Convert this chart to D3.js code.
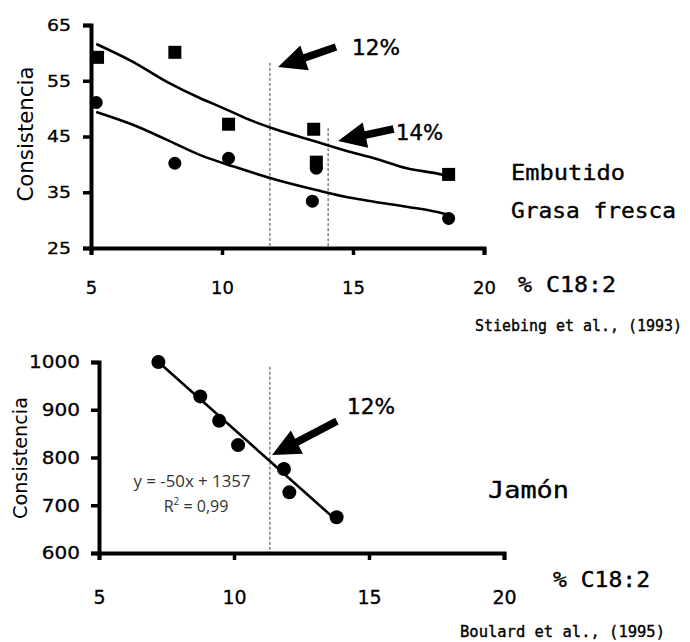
<!DOCTYPE html>
<html>
<head>
<meta charset="utf-8">
<script src="https://cdn.jsdelivr.net/npm/d3@7"></script>
<style>
  body { margin: 0; background: #fff; }
  svg { display: block; }
</style>
</head>
<body>
<div id="chart"></div>
<script>
// --- data ---
// Stiebing et al. (1993): consistency vs % C18:2
const embX = [5.25, 8.2, 10.25, 13.5, 13.6, 18.65];
const embY = [59.2, 60.1, 47.2, 46.3, 40.4, 38.2];
const grasaX = [5.2, 8.2, 10.25, 13.45, 13.6, 18.65];
const grasaY = [51.1, 40.2, 41.1, 33.4, 39.3, 30.3];
// fitted curves as drawn in the figure
const embTrendX = [5.2, 6.6, 7.9, 9.15, 10.05, 11.05, 12.1, 13.35, 14.9, 15.8, 17.05, 18.45, 18.6];
const embTrendY = [61.6, 58.4, 54.8, 51.9, 50.1, 48.0, 46.2, 44.4, 42.2, 41.1, 39.3, 38.1, 37.9];
const grasaTrendX = [5.2, 6.6, 7.9, 9.15, 10.45, 12.1, 13.6, 14.9, 15.8, 17.05, 18.45, 18.6];
const grasaTrendY = [49.4, 47.1, 44.4, 41.7, 39.6, 37.2, 35.4, 34.0, 33.3, 32.4, 31.2, 31.0];

// Boulard et al. (1995): ham
const jamonX = [7.2, 8.75, 9.45, 10.15, 11.85, 12.05, 13.8];
const jamonY = [1000, 928, 877, 826, 776, 727, 675];
const jamonTrendX = [7.2, 13.7];
const jamonTrendY = [1000, 673];

const topXTicks = [5, 10, 15, 20];
const topYTicks = [25, 35, 45, 55, 65];
const botXTicks = [5, 10, 15, 20];
const botYTicks = [600, 700, 800, 900, 1000];

// reference lines and arrows (data units)
const topRefX = [11.83, 14.05];
const topRefTop = [58.2, 46.5];
const botRefX = [11.33];
const botRefTop = [990];
const topArrows = [
  { tail: [14.35, 61.05], tip: [12.14, 57.47] },
  { tail: [16.55, 46.35], tip: [14.43, 44.19] }
];
const botArrows = [
  { tail: [13.81, 876], tip: [11.41, 805] }
];

const width = 690, height = 642;

const svg = d3.select("#chart").append("svg")
  .attr("width", width)
  .attr("height", height)
  .style("background", "#fff");

const sans = "DejaVu Sans, Verdana, sans-serif";
const mono = "DejaVu Sans Mono, Monaco, monospace";

function label(x, y, txt, o) {
  const t = svg.append("text")
    .attr("x", x).attr("y", y)
    .attr("font-family", o.family || sans)
    .attr("font-size", o.size)
    .attr("fill", o.fill || "#000")
    .attr("text-anchor", o.anchor || "start")
    .text(txt);
  if (o.heavy) t.attr("stroke", o.fill || "#000").attr("stroke-width", o.heavy);
  if (o.len) t.attr("textLength", o.len).attr("lengthAdjust", "spacingAndGlyphs");
  if (o.rotate) t.attr("transform", `rotate(${o.rotate},${x},${y})`);
  return t;
}

function arrow(g, x, y, a) {
  const x1 = x(a.tail[0]), y1 = y(a.tail[1]);
  const x2 = x(a.tip[0]), y2 = y(a.tip[1]);
  const ang = Math.atan2(y2 - y1, x2 - x1);
  const len = Math.hypot(x2 - x1, y2 - y1);
  const headL = 28, headW = 13, shaft = 3.8;
  const pts = [
    [0, -shaft], [len - headL, -shaft], [len - headL, -headW],
    [len, 0],
    [len - headL, headW], [len - headL, shaft], [0, shaft]
  ];
  g.append("polygon")
    .attr("points", pts.map(p => p.join(",")).join(" "))
    .attr("transform", `translate(${x1},${y1}) rotate(${ang * 180 / Math.PI})`)
    .attr("fill", "#000");
}

function styleAxis(g) {
  g.select(".domain").attr("stroke", "#000").attr("stroke-width", 4);
  g.selectAll(".tick line").attr("stroke", "#000").attr("stroke-width", 3.5);
  g.selectAll(".tick text").attr("fill", "#000").attr("font-family", sans)
    .attr("stroke", "#000").attr("stroke-width", 0.3);
}

// ================= top chart =================
const xTop = d3.scaleLinear().domain([5, 20]).range([91, 484]);
const yTop = d3.scaleLinear().domain([25, 65]).range([248, 25]);
const gTop = svg.append("g");

// dotted reference lines
gTop.selectAll(".ref").data(topRefX).join("line")
  .attr("x1", d => xTop(d)).attr("x2", d => xTop(d))
  .attr("y1", (d, i) => yTop(topRefTop[i])).attr("y2", yTop(25))
  .attr("stroke", "#444").attr("stroke-width", 1).attr("stroke-dasharray", "3,2");

const lineTop = d3.line().x(d => xTop(d[0])).y(d => yTop(d[1])).curve(d3.curveMonotoneX);
gTop.append("path")
  .attr("d", lineTop(embTrendX.map((v, i) => [v, embTrendY[i]])))
  .attr("fill", "none").attr("stroke", "#000").attr("stroke-width", 2.6);
gTop.append("path")
  .attr("d", lineTop(grasaTrendX.map((v, i) => [v, grasaTrendY[i]])))
  .attr("fill", "none").attr("stroke", "#000").attr("stroke-width", 2.6);

gTop.selectAll(".sq").data(embX).join("rect")
  .attr("x", (d) => xTop(d) - 6.5)
  .attr("y", (d, i) => yTop(embY[i]) - 6.5)
  .attr("width", 13).attr("height", 13).attr("fill", "#000");
gTop.selectAll(".ci").data(grasaX).join("circle")
  .attr("cx", d => xTop(d))
  .attr("cy", (d, i) => yTop(grasaY[i]))
  .attr("r", 6.5).attr("fill", "#000");

const axTopX = gTop.append("g")
  .attr("transform", `translate(0,${yTop(25)})`)
  .call(d3.axisBottom(xTop).tickValues(topXTicks).tickFormat(d3.format("d")).tickSize(7).tickPadding(26))
  .call(styleAxis);
axTopX.selectAll(".tick text").attr("font-size", 18);

const axTopY = gTop.append("g")
  .attr("transform", `translate(${xTop(5)},0)`)
  .call(d3.axisLeft(yTop).tickValues(topYTicks).tickFormat(d3.format("d")).tickSize(8).tickPadding(12))
  .call(styleAxis);
axTopY.selectAll(".tick text").attr("font-size", 16.5)
  .attr("textLength", d => String(d).length * 12).attr("lengthAdjust", "spacingAndGlyphs");

topArrows.forEach(a => arrow(gTop, xTop, yTop, a));

label(33, 134, "Consistencia", { size: 21, anchor: "middle", rotate: -90, len: 135 });
label(352, 55, "12%", { size: 21, len: 48, heavy: 0.4 });
label(396, 140, "14%", { size: 21, len: 47, heavy: 0.4 });
label(511, 180, "Embutido", { family: mono, size: 22, len: 114, heavy: 0.35 });
label(511, 218, "Grasa fresca", { family: mono, size: 22, len: 165, heavy: 0.35 });
label(518, 292, "% C18:2", { family: mono, size: 21, len: 98, heavy: 0.35 });
label(475, 331, "Stiebing et al., (1993)", { family: mono, size: 15, len: 207, heavy: 0.35 });

// ================= bottom chart =================
const xBot = d3.scaleLinear().domain([5, 20]).range([99, 504]);
const yBot = d3.scaleLinear().domain([600, 1000]).range([553, 362]);
const gBot = svg.append("g");

gBot.selectAll(".ref").data(botRefX).join("line")
  .attr("x1", d => xBot(d)).attr("x2", d => xBot(d))
  .attr("y1", (d, i) => yBot(botRefTop[i])).attr("y2", yBot(600))
  .attr("stroke", "#444").attr("stroke-width", 1).attr("stroke-dasharray", "3,2");

gBot.append("path")
  .attr("d", d3.line().x(d => xBot(d[0])).y(d => yBot(d[1]))(jamonTrendX.map((v, i) => [v, jamonTrendY[i]])))
  .attr("fill", "none").attr("stroke", "#000").attr("stroke-width", 2.6);

gBot.selectAll(".ci").data(jamonX).join("circle")
  .attr("cx", d => xBot(d))
  .attr("cy", (d, i) => yBot(jamonY[i]))
  .attr("r", 7).attr("fill", "#000");

const axBotX = gBot.append("g")
  .attr("transform", `translate(0,${yBot(600)})`)
  .call(d3.axisBottom(xBot).tickValues(botXTicks).tickFormat(d3.format("d")).tickSize(7).tickPadding(31))
  .call(styleAxis);
axBotX.selectAll(".tick text").attr("font-size", 19);

const axBotY = gBot.append("g")
  .attr("transform", `translate(${xBot(5)},0)`)
  .call(d3.axisLeft(yBot).tickValues(botYTicks).tickFormat(d3.format("d")).tickSize(8).tickPadding(11))
  .call(styleAxis);
axBotY.selectAll(".tick text").attr("font-size", 18)
  .attr("textLength", d => String(d).length * 12.75).attr("lengthAdjust", "spacingAndGlyphs");

botArrows.forEach(a => arrow(gBot, xBot, yBot, a));

label(27, 458, "Consistencia", { size: 19, anchor: "middle", rotate: -90, len: 122 });
label(192, 487, "y = -50x + 1357", { family: "Open Sans, sans-serif", size: 16, anchor: "middle", fill: "#333", len: 117 });
const r2 = label(196, 512, "R", { family: "Open Sans, sans-serif", size: 16, anchor: "middle", fill: "#333" });
r2.append("tspan").attr("dy", -7).attr("font-size", 10).text("2");
r2.append("tspan").attr("dy", 7).text(" = 0,99");
label(347, 414, "12%", { size: 21, len: 48, heavy: 0.4 });
label(488, 498, "Jamón", { family: mono, size: 23, len: 81, heavy: 0.35 });
label(553, 587, "% C18:2", { family: mono, size: 21, len: 97, heavy: 0.35 });
label(460, 637, "Boulard et al., (1995)", { family: mono, size: 15, len: 205, heavy: 0.35 });
</script>
</body>
</html>
